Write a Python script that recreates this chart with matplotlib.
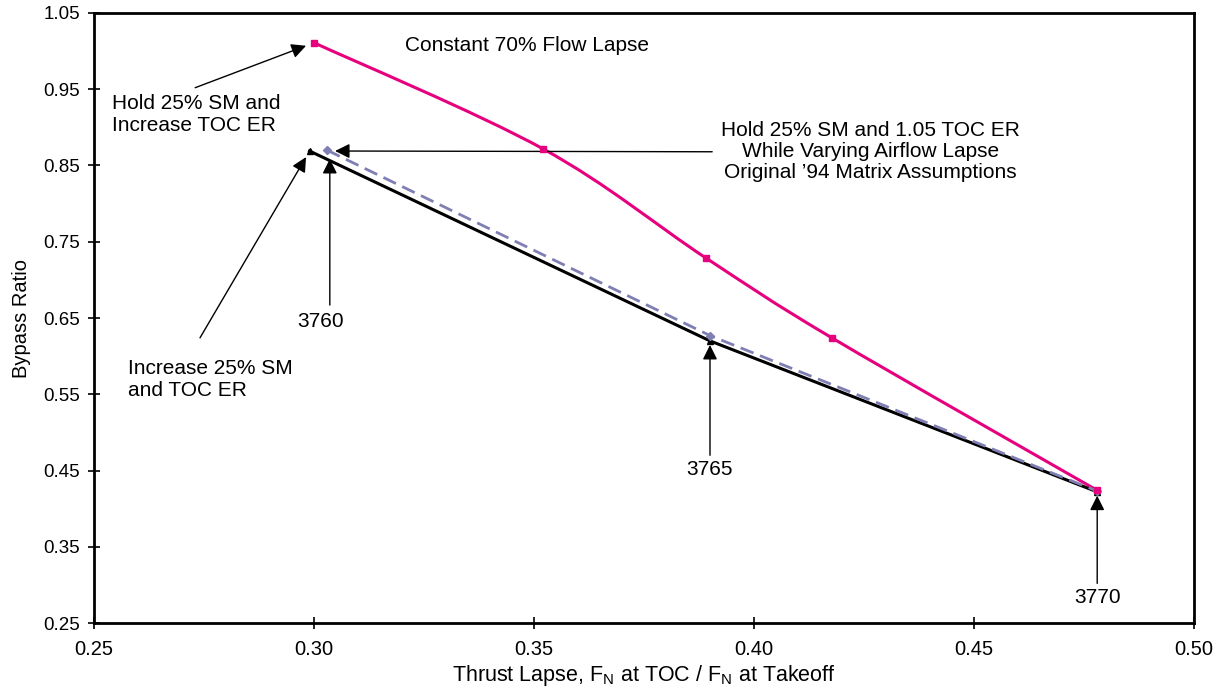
import numpy as np
import matplotlib.pyplot as plt
from matplotlib.path import Path
from matplotlib.patches import PathPatch

plt.rcParams['font.family'] = ['Liberation Sans', 'DejaVu Sans']

# constant 70% flow lapse (smoothed curve)
flow_x = [0.300, 0.352, 0.389, 0.4177, 0.478]
flow_y = [1.011, 0.872, 0.729, 0.624, 0.424]

# hold 25% SM and increase TOC ER
hold_x = [0.299, 0.390, 0.478]
hold_y = [0.869, 0.620, 0.422]

# original '94 matrix assumptions
orig_x = [0.303, 0.390, 0.478]
orig_y = [0.870, 0.627, 0.423]

pink = '#E6007E'
slate = '#7F7FB3'


def smooth_path(xs, ys):
    # Catmull-Rom through the points, drawn as cubic bezier
    pts = np.column_stack([xs, ys])
    n = len(pts)
    verts = [pts[0]]
    codes = [Path.MOVETO]
    for i in range(n - 1):
        p0 = pts[max(i - 1, 0)]
        p1 = pts[i]
        p2 = pts[i + 1]
        p3 = pts[min(i + 2, n - 1)]
        c1 = p1 + (p2 - p0) / 6.0
        c2 = p2 - (p3 - p1) / 6.0
        verts += [c1, c2, p2]
        codes += [Path.CURVE4] * 3
    return Path(verts, codes)


fig = plt.figure(figsize=(12.25, 6.98), dpi=100)
ax = fig.add_axes([0.0767, 0.1074, 0.898, 0.874])

ax.add_patch(PathPatch(smooth_path(flow_x, flow_y), fc='none', ec=pink, lw=2.2, zorder=3))
ax.plot(flow_x, flow_y, ls='none', marker='s', ms=5, color=pink, zorder=4)

ax.plot(hold_x, hold_y, color='black', lw=2.2, marker='^', ms=5, zorder=3)
ax.plot(orig_x, orig_y, color=slate, lw=2, ls=(0, (5, 2.5)), marker='D', ms=4, zorder=3)

ax.set_xlim(0.25, 0.50)
ax.set_ylim(0.25, 1.05)
ax.set_xticks(np.arange(0.25, 0.501, 0.05))
ax.set_yticks(np.arange(0.25, 1.051, 0.10))
ax.xaxis.set_major_formatter(plt.FormatStrFormatter('%.2f'))
ax.yaxis.set_major_formatter(plt.FormatStrFormatter('%.2f'))
ax.tick_params(direction='inout', length=8, width=1.2, pad=6)
ax.tick_params(axis='x', labelsize=14.5, pad=8)
ax.tick_params(axis='y', labelsize=13.5)
for s in ax.spines.values():
    s.set_linewidth(2)

ax.set_xlabel('Thrust Lapse, F$_\\mathregular{N}$ at TOC / F$_\\mathregular{N}$ at Takeoff', fontsize=15.5, labelpad=3)
ax.set_ylabel('Bypass Ratio', fontsize=14.5, labelpad=9)

arrow = dict(arrowstyle='-|>', color='black', lw=1, mutation_scale=22, shrinkA=0, shrinkB=0)
fs = 15

ax.text(0.3207, 1.008, 'Constant 70% Flow Lapse', fontsize=fs, ha='left', va='center')

ax.text(0.254, 0.917, 'Hold 25% SM and\nIncrease TOC ER', fontsize=fs, ha='left', va='center', linespacing=1.2)
ax.annotate('', xy=(0.2982, 1.007), xytext=(0.273, 0.952), arrowprops=arrow)

ax.text(0.4264, 0.868, "Hold 25% SM and 1.05 TOC ER\nWhile Varying Airflow Lapse\nOriginal \u201994 Matrix Assumptions",
        fontsize=fs, ha='center', va='center', linespacing=1.12)
ax.annotate('', xy=(0.3048, 0.869), xytext=(0.3905, 0.868), arrowprops=arrow)

ax.text(0.3014, 0.645, '3760', fontsize=fs, ha='center', va='center')
ax.annotate('', xy=(0.3036, 0.8585), xytext=(0.3036, 0.667), arrowprops=arrow)

ax.text(0.2577, 0.570, 'Increase 25% SM\nand TOC ER', fontsize=fs, ha='left', va='center', linespacing=1.2)
ax.annotate('', xy=(0.2982, 0.861), xytext=(0.2741, 0.624), arrowprops=arrow)

ax.text(0.390, 0.4507, '3765', fontsize=fs, ha='center', va='center')
ax.annotate('', xy=(0.390, 0.6146), xytext=(0.390, 0.470), arrowprops=arrow)

ax.text(0.478, 0.283, '3770', fontsize=fs, ha='center', va='center')
ax.annotate('', xy=(0.478, 0.417), xytext=(0.478, 0.302), arrowprops=arrow)

fig.savefig('out.png', dpi=100)
